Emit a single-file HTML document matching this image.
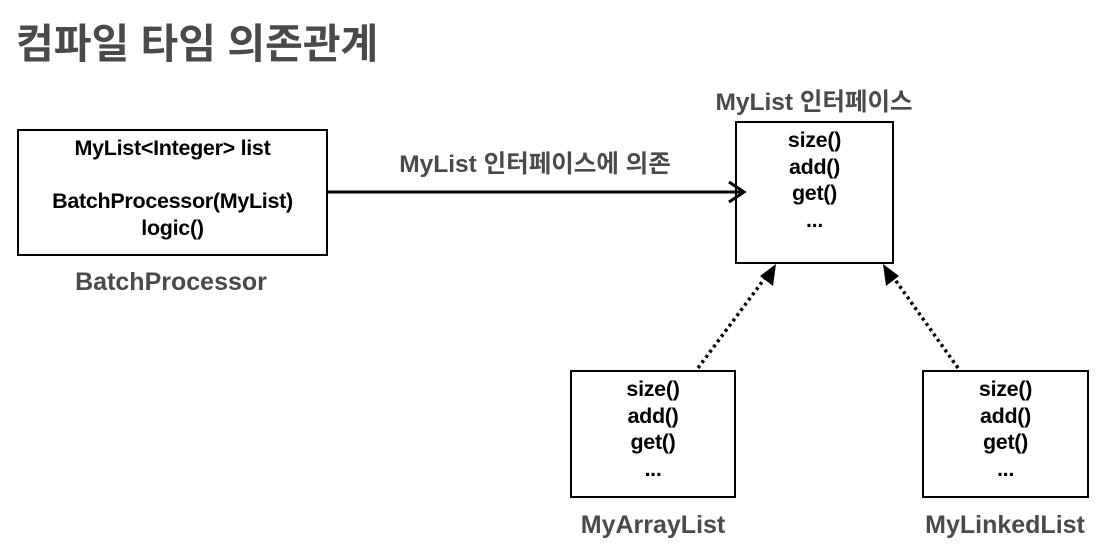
<!DOCTYPE html>
<html><head><meta charset="utf-8"><style>
body{margin:0;width:1111px;height:550px;background:#fff;position:relative;overflow:hidden;font-family:"Liberation Sans","Noto Sans CJK KR",sans-serif;}
.t{position:absolute;white-space:nowrap;font-weight:bold;}
.box{position:absolute;border:2px solid #000;box-sizing:border-box;text-align:center;font-weight:bold;font-size:21.5px;line-height:26.5px;color:#000;letter-spacing:-0.3px;}
.g{color:#4a4a4a;}
</style></head><body>
<div class="t g" style="left:16px;top:10px;font-size:41px;">컴파일 타임 의존관계</div>
<div class="box" style="left:17px;top:129px;width:311px;height:127px;padding-top:4px;">MyList&lt;Integer&gt; list<br><br>BatchProcessor(MyList)<br>logic()</div>
<div class="t g" style="left:0;width:342px;text-align:center;top:268px;font-size:25px;">BatchProcessor</div>
<div class="t g" style="left:380px;width:310px;text-align:center;top:145px;font-size:24.5px;">MyList 인터페이스에 의존</div>
<div class="t g" style="left:714px;width:200px;text-align:center;top:83px;font-size:24.5px;">MyList 인터페이스</div>
<div class="box" style="left:735px;top:121px;width:159px;height:143px;padding-top:4px;">size()<br>add()<br>get()<br>...</div>
<div class="box" style="left:570px;top:370px;width:166px;height:128px;padding-top:4px;">size()<br>add()<br>get()<br>...</div>
<div class="box" style="left:922px;top:370px;width:167px;height:128px;padding-top:4px;">size()<br>add()<br>get()<br>...</div>
<div class="t g" style="left:553px;width:200px;text-align:center;top:511px;font-size:25px;">MyArrayList</div>
<div class="t g" style="left:905px;width:200px;text-align:center;top:511px;font-size:25px;">MyLinkedList</div>
<svg width="1111" height="550" style="position:absolute;left:0;top:0">
<line x1="328" y1="192" x2="742" y2="192" stroke="#000" stroke-width="3"/>
<polyline points="729,182 744,192 729,202" fill="none" stroke="#000" stroke-width="3"/>
<line x1="698" y1="368" x2="768" y2="274" stroke="#000" stroke-width="3.5" stroke-dasharray="3,3.5"/>
<polygon points="776,264 773,286 760,276" fill="#000"/>
<line x1="958" y1="368" x2="891" y2="274" stroke="#000" stroke-width="3.5" stroke-dasharray="3,3.5"/>
<polygon points="883,264 899,276 886,286" fill="#000"/>
</svg>
</body></html>
